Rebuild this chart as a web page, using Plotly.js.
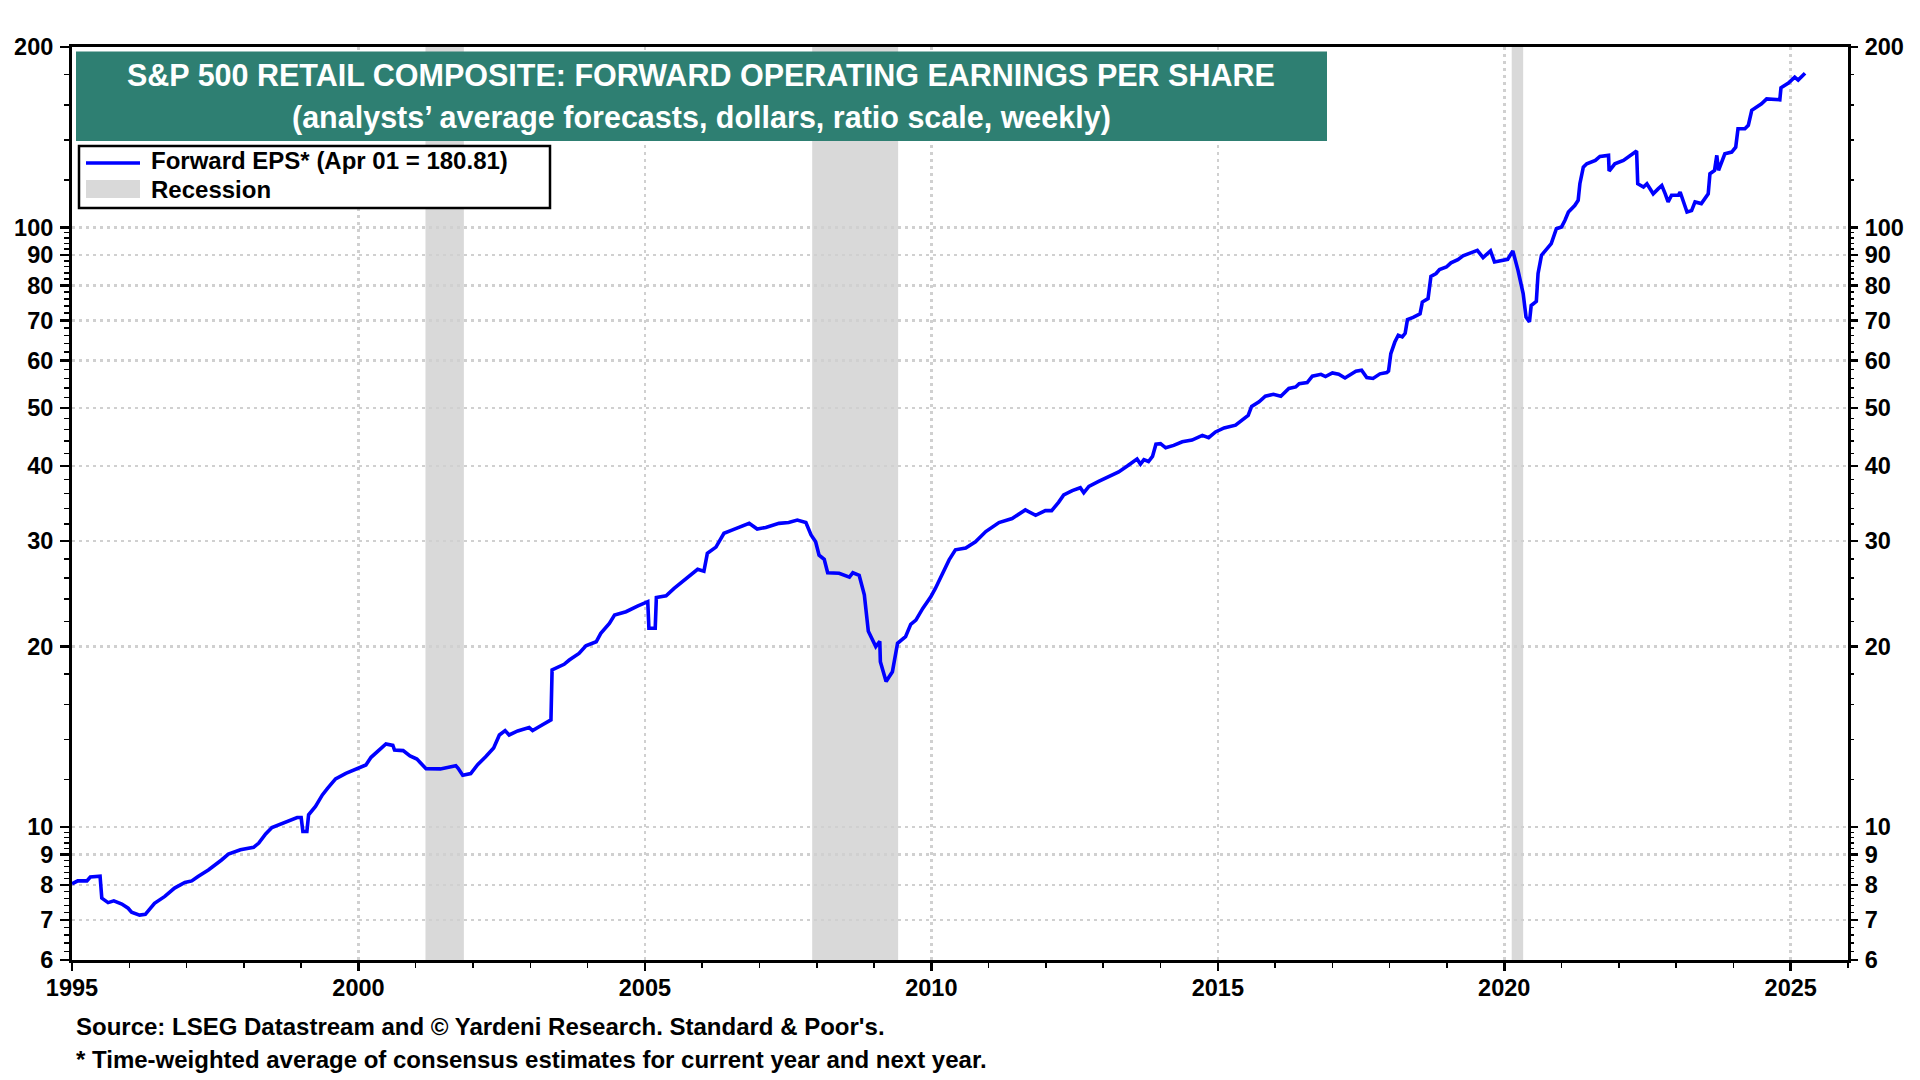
<!DOCTYPE html>
<html>
<head>
<meta charset="utf-8">
<script src="https://cdn.plot.ly/plotly-3.0.1.min.js"></script>
<style>
html,body{margin:0;padding:0;background:#fff;}
#chart{width:1920px;height:1080px;}
</style>
</head>
<body>
<div id="chart"></div>
<script>
// ---------- DATA ----------
const years = [
1995.00,1995.10,1995.26,1995.32,1995.49,1995.52,1995.63,1995.73,1995.87,1995.98,
1996.04,1996.18,1996.28,1996.36,1996.44,1996.62,1996.79,1996.97,1997.09,1997.20,
1997.38,1997.61,1997.73,1997.94,1998.17,1998.26,1998.38,1998.49,1998.70,1998.93,
1999.00,1999.03,1999.10,1999.13,1999.25,1999.37,1999.46,1999.60,1999.78,1999.98,
2000.13,2000.22,2000.37,2000.48,2000.60,2000.63,2000.78,2000.90,2001.02,2001.18,
2001.43,2001.60,2001.70,2001.74,2001.82,2001.96,2002.08,2002.22,2002.36,2002.46,
2002.56,2002.63,2002.78,2002.98,2003.04,2003.16,2003.36,2003.38,2003.59,2003.68,
2003.85,2003.97,2004.15,2004.23,2004.38,2004.47,2004.67,2004.87,2005.05,2005.07,
2005.18,2005.20,2005.37,2005.51,2005.65,2005.83,2005.92,2006.03,2006.09,2006.24,
2006.38,2006.53,2006.70,2006.82,2006.96,2007.11,2007.34,2007.51,2007.66,2007.81,
2007.90,2007.98,2008.04,2008.13,2008.19,2008.39,2008.57,2008.63,2008.74,2008.83,
2008.90,2009.03,2009.10,2009.11,2009.21,2009.32,2009.41,2009.55,2009.64,2009.73,
2009.85,2009.99,2010.07,2010.19,2010.31,2010.42,2010.60,2010.77,2010.95,2011.18,
2011.41,2011.64,2011.82,2011.99,2012.10,2012.22,2012.31,2012.46,2012.60,2012.66,
2012.75,2012.92,2013.10,2013.27,2013.42,2013.59,2013.65,2013.71,2013.79,2013.86,
2013.92,2014.00,2014.09,2014.23,2014.38,2014.55,2014.73,2014.84,2014.96,2015.11,
2015.31,2015.43,2015.53,2015.59,2015.72,2015.83,2015.97,2016.10,2016.24,2016.36,
2016.42,2016.56,2016.65,2016.80,2016.88,2017.00,2017.11,2017.22,2017.33,2017.41,
2017.51,2017.60,2017.71,2017.83,2017.95,2017.98,2018.02,2018.09,2018.15,2018.22,
2018.27,2018.31,2018.41,2018.53,2018.57,2018.67,2018.72,2018.81,2018.87,2018.99,
2019.07,2019.19,2019.28,2019.42,2019.53,2019.63,2019.76,2019.83,2019.92,2020.06,
2020.15,2020.24,2020.33,2020.38,2020.44,2020.47,2020.56,2020.59,2020.65,2020.73,
2020.82,2020.91,2021.00,2021.06,2021.12,2021.23,2021.29,2021.32,2021.38,2021.44,
2021.59,2021.67,2021.82,2021.83,2021.93,2022.08,2022.20,2022.31,2022.33,2022.43,
2022.49,2022.60,2022.69,2022.75,2022.81,2022.86,2022.92,2023.04,2023.07,2023.13,
2023.19,2023.27,2023.33,2023.44,2023.56,2023.59,2023.67,2023.71,2023.74,2023.85,
2023.97,2024.04,2024.08,2024.20,2024.26,2024.32,2024.41,2024.49,2024.58,2024.67,
2024.81,2024.83,2024.96,2025.07,2025.13,2025.25
];
const forwardEps = [
8.04,8.13,8.13,8.25,8.28,7.61,7.48,7.53,7.44,7.32,
7.21,7.13,7.15,7.32,7.46,7.66,7.91,8.08,8.13,8.27,
8.48,8.81,9.01,9.16,9.25,9.40,9.74,9.98,10.15,10.37,
10.37,9.83,9.83,10.48,10.82,11.31,11.60,12.03,12.29,12.53,
12.69,13.07,13.44,13.76,13.68,13.44,13.41,13.14,12.98,12.51,
12.50,12.62,12.65,12.53,12.20,12.28,12.70,13.10,13.55,14.24,
14.48,14.24,14.46,14.65,14.48,14.71,15.09,18.28,18.68,18.99,
19.48,20.06,20.37,21.04,21.86,22.57,22.86,23.36,23.76,21.45,
21.45,24.15,24.30,25.00,25.65,26.48,26.90,26.70,28.60,29.30,
30.90,31.30,31.70,32.10,31.40,31.60,32.10,32.20,32.50,32.20,
30.70,29.90,28.40,27.95,26.55,26.50,26.10,26.55,26.30,24.40,
21.20,20.00,20.40,18.87,17.48,18.15,20.25,20.77,21.78,22.13,
23.15,24.20,25.00,26.40,27.90,29.00,29.20,29.90,31.10,32.20,
32.70,33.80,33.10,33.70,33.70,34.80,35.80,36.40,36.80,36.10,
37.00,37.70,38.40,39.10,40.00,41.10,40.30,41.00,40.70,41.50,
43.50,43.60,42.90,43.30,43.90,44.20,45.00,44.60,45.60,46.30,
46.80,47.80,48.60,50.30,51.20,52.30,52.70,52.30,53.90,54.20,
54.90,55.10,56.50,56.90,56.40,57.20,56.90,56.10,56.90,57.60,
57.80,56.20,56.00,57.00,57.30,57.60,61.60,64.40,66.10,65.70,
66.60,70.20,70.80,71.80,75.10,76.10,82.90,83.80,85.10,85.90,
87.30,88.40,89.70,90.70,91.60,89.10,91.40,87.60,88.00,88.50,
91.40,84.80,77.60,70.90,69.60,74.10,75.30,83.80,89.90,91.60,
94.00,99.50,100.2,102.8,106.1,108.8,111.0,118.3,126.1,127.7,
129.4,131.4,131.9,124.2,127.7,129.4,131.9,134.1,118.3,116.8,
118.3,113.8,116.1,117.5,113.8,110.3,113.2,113.2,114.6,110.3,
106.1,106.7,110.3,109.6,113.8,122.9,124.5,131.9,124.5,132.7,
133.6,136.1,146.1,146.1,148.0,156.8,158.8,160.8,163.9,163.5,
163.3,171.0,174.1,178.1,176.1,180.81
];
const recessionStarts = [2001.17, 2007.92, 2020.13];
const recessionEnds   = [2001.84, 2009.42, 2020.33];
const xTickVals = [1995, 2000, 2005, 2010, 2015, 2020, 2025];
const yTickVals = [6, 7, 8, 9, 10, 20, 30, 40, 50, 60, 70, 80, 90, 100, 200];
const titleLine1 = "S&P 500 RETAIL COMPOSITE: FORWARD OPERATING EARNINGS PER SHARE";
const titleLine2 = "(analysts\u2019 average forecasts, dollars, ratio scale, weekly)";
const legendLine = "Forward EPS* (Apr 01 = 180.81)";
const legendRecession = "Recession";
const sourceNote = "Source: LSEG Datastream and \u00A9 Yardeni Research. Standard & Poor's.";
const footNote = "* Time-weighted average of consensus estimates for current year and next year.";

// ---------- LAYOUT ----------
const W = 1920, H = 1080;
const M = {l: 72, r: 72, t: 47, b: 120};
const PW = W - M.l - M.r, PH = H - M.t - M.b;
const px = X => (X - M.l) / PW;
const py = Y => (H - M.b - Y) / PH;

const FONT = "Liberation Sans, Arial, Helvetica, sans-serif";
const tickFont = {family: FONT, size: 23.5, color: "#000", weight: "bold"};

// minor tick positions (axis configuration)
const yMinor = [];
[[6, 10, 0.2], [10, 100, 2], [100, 200, 20]].forEach(([a, b, s]) => {
  for (let v = a + s; v < b - 1e-9; v += s) {
    const r = Math.round(v * 100) / 100;
    if (!yTickVals.includes(r)) yMinor.push(r);
  }
});
const xMinor = [];
for (let y = 1995; y <= 2026; y++) if (!xTickVals.includes(y)) xMinor.push(y);

const yRange = [Math.log10(6), Math.log10(200)];
const gridStyle = {showgrid: true, gridcolor: "#d0d0d0", gridwidth: 2.5, griddash: "3px,4px"};

const traces = [
  {
    x: years, y: forwardEps, type: "scatter", mode: "lines",
    name: legendLine, line: {color: "#0000ff", width: 3.6},
    showlegend: false, hoverinfo: "x+y"
  },
  {
    x: years, y: forwardEps, type: "scatter", mode: "lines", yaxis: "y2",
    line: {color: "rgba(0,0,0,0)", width: 0}, showlegend: false, hoverinfo: "skip"
  }
];

const shapes = [];
recessionStarts.forEach((s, i) => {
  shapes.push({type: "rect", xref: "x", yref: "paper", x0: s, x1: recessionEnds[i], y0: 0, y1: 1,
    fillcolor: "#d9d9d9", line: {width: 0}, layer: "below"});
});
// title box
shapes.push({type: "rect", xref: "paper", yref: "paper", x0: px(76), x1: px(1327), y0: py(141), y1: py(51.5),
  fillcolor: "#2e7f72", line: {width: 0}, layer: "above"});
// legend box
shapes.push({type: "rect", xref: "paper", yref: "paper", x0: px(79), x1: px(550), y0: py(208), y1: py(146),
  fillcolor: "#ffffff", line: {color: "#000", width: 2.5}, layer: "above"});
shapes.push({type: "line", xref: "paper", yref: "paper", x0: px(86), x1: px(140), y0: py(163), y1: py(163),
  line: {color: "#0000ff", width: 3.5}, layer: "above"});
shapes.push({type: "rect", xref: "paper", yref: "paper", x0: px(86), x1: px(140), y0: py(198), y1: py(180),
  fillcolor: "#d9d9d9", line: {width: 0}, layer: "above"});

const annotations = [
  {text: titleLine1, xref: "paper", yref: "paper", x: px(701), y: py(75), xanchor: "center", yanchor: "middle",
   showarrow: false, font: {family: FONT, size: 30.5, color: "#fff", weight: "bold"}},
  {text: titleLine2, xref: "paper", yref: "paper", x: px(701), y: py(117), xanchor: "center", yanchor: "middle",
   showarrow: false, font: {family: FONT, size: 30.5, color: "#fff", weight: "bold"}},
  {text: legendLine, xref: "paper", yref: "paper", x: px(149), y: py(161), xanchor: "left", yanchor: "middle",
   showarrow: false, font: {family: FONT, size: 24, color: "#000", weight: "bold"}},
  {text: legendRecession, xref: "paper", yref: "paper", x: px(149), y: py(189), xanchor: "left", yanchor: "middle",
   showarrow: false, font: {family: FONT, size: 24, color: "#000", weight: "bold"}},
  {text: sourceNote, xref: "paper", yref: "paper", x: px(74), y: py(1026), xanchor: "left", yanchor: "middle",
   showarrow: false, font: {family: FONT, size: 24, color: "#000", weight: "bold"}},
  {text: footNote, xref: "paper", yref: "paper", x: px(74), y: py(1059), xanchor: "left", yanchor: "middle",
   showarrow: false, font: {family: FONT, size: 24, color: "#000", weight: "bold"}}
];

const yCommon = {
  type: "log", range: yRange, autorange: false, fixedrange: true,
  tickmode: "array", tickvals: yTickVals, ticktext: yTickVals.map(String),
  ticks: "outside", ticklen: 9, tickwidth: 2.5, tickcolor: "#000",
  tickfont: tickFont, ticklabelstandoff: 2,
  minor: {tickmode: "array", tickvals: yMinor, ticks: "outside", ticklen: 5, tickwidth: 1.5, tickcolor: "#000", showgrid: false},
  zeroline: false
};

const layout = {
  width: W, height: H,
  margin: M,
  paper_bgcolor: "#fff", plot_bgcolor: "#fff",
  showlegend: false,
  xaxis: {
    type: "linear", range: [1995, 2026], autorange: false, fixedrange: true,
    tickmode: "array", tickvals: xTickVals, ticktext: xTickVals.map(String),
    ticks: "outside", ticklen: 8, tickwidth: 2.5, tickcolor: "#000",
    tickfont: tickFont, ticklabelstandoff: -3,
    minor: {tickmode: "array", tickvals: xMinor, ticks: "outside", ticklen: 5, tickwidth: 1.5, tickcolor: "#000", showgrid: false},
    showline: true, linecolor: "#000", linewidth: 3, mirror: true,
    zeroline: false, ...gridStyle
  },
  yaxis: Object.assign({}, yCommon, gridStyle, {
    side: "left", showline: true, linecolor: "#000", linewidth: 3, mirror: true
  }),
  yaxis2: Object.assign({}, yCommon, {
    overlaying: "y", side: "right", showgrid: false, showline: false
  }),
  shapes: shapes,
  annotations: annotations
};

Plotly.newPlot("chart", traces, layout, {staticPlot: true, displayModeBar: false});
</script>
</body>
</html>
